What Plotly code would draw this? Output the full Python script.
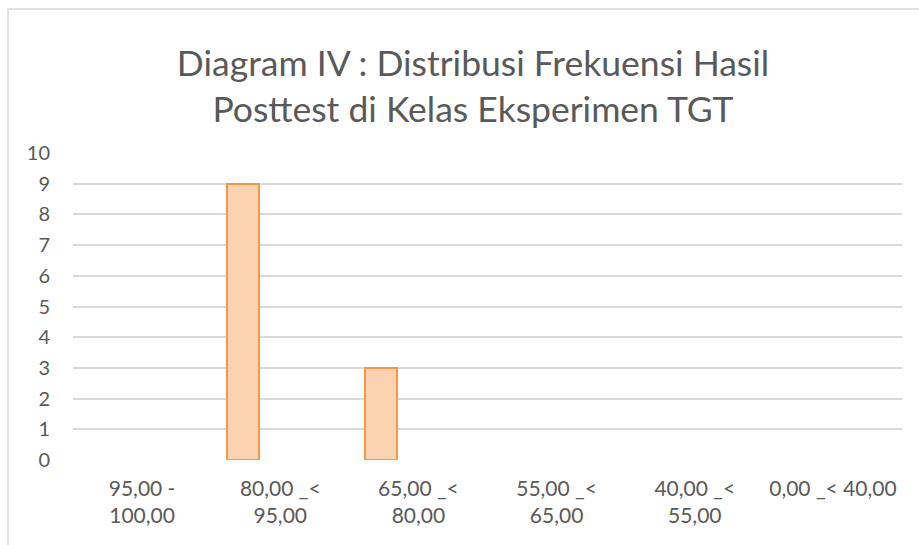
import plotly.graph_objects as go

# kelas interval & frekuensi
kelas = ["95,00 -<br>100,00", "80,00 _<<br>95,00", "65,00 _<<br>80,00",
         "55,00 _<<br>65,00", "40,00 _<<br>55,00", "0,00 _< 40,00"]
frekuensi = [0, 9, 3, 0, 0, 0]
y_ticks = list(range(0, 11))

# no outline on empty classes
garis = [2 if f > 0 else 0 for f in frekuensi]

fig = go.Figure()

fig.add_trace(go.Bar(
    x=kelas,
    y=frekuensi,
    width=0.23,
    offset=-0.385,
    marker=dict(color="#fcd3b0", line=dict(color="#f79646", width=garis)),
    showlegend=False,
))

# chart border (excel style)
fig.add_shape(type="rect", xref="paper", yref="paper",
              x0=-0.0784, x1=1.2, y0=-0.6, y1=1.469,
              line=dict(color="#d9d9d9", width=1.5), layer="below")

fig.update_layout(
    width=919, height=545,
    margin=dict(l=73, r=17, t=153, b=85),
    paper_bgcolor="white",
    plot_bgcolor="white",
    font=dict(family="Lato, Carlito, sans-serif", color="#595959"),
    title=dict(
        text="Diagram IV : Distribusi Frekuensi Hasil<br>Posttest di Kelas Eksperimen TGT",
        x=473 / 919, xref="container", xanchor="center",
        y=1 - 76 / 545, yref="container", yanchor="middle",
        font=dict(size=35.5, color="#595959"),
    ),
    xaxis=dict(
        tickfont=dict(size=21, color="#595959"),
        showgrid=False, showline=False, ticks="",
        ticklabelstandoff=14, automargin=False,
    ),
    yaxis=dict(
        range=[0, 10], tickvals=y_ticks,
        tickfont=dict(size=20, color="#595959"),
        gridcolor="#d9d9d9", gridwidth=1.5,
        zeroline=False, showline=False, ticks="",
        ticklabelstandoff=22, automargin=False,
    ),
    bargap=0,
)

fig.write_html("out.html", config={"displayModeBar": False},
               post_script="document.body.style.margin='0';")
